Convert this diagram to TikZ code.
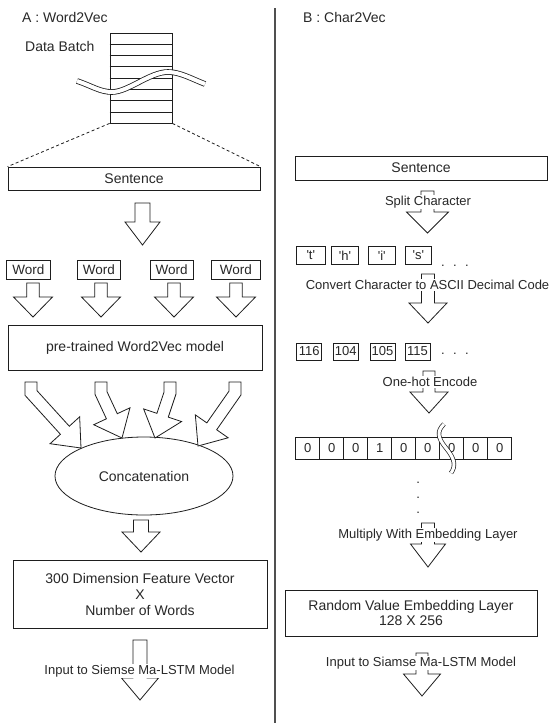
\documentclass[tikz,border=0pt]{standalone}
\usepackage{fontspec}
\setmainfont{Liberation Sans}[Ligatures=TeXOff]
\usetikzlibrary{calc,shapes.geometric}
\definecolor{linec}{RGB}{30,30,30}
\definecolor{txtc}{RGB}{40,40,40}
\definecolor{divc}{RGB}{80,80,80}
% straight block arrow: start, tip, half shaft width, half head width, head length
\newcommand\blockarrow[5]{%
  \coordinate (bahb) at ($(#2)!#5!(#1)$);
  \draw[blockar] ($(#1)!#3!90:(#2)$) -- ($(bahb)!#3!-90:(#1)$) -- ($(bahb)!#4!-90:(#1)$) -- (#2)
    -- ($(bahb)!#4!90:(#1)$) -- ($(bahb)!#3!90:(#1)$) -- ($(#1)!#3!-90:(#2)$) -- cycle;}
% bent block arrow: start, bend, tip, half shaft width, half head width, head length
\newcommand\bentarrow[6]{%
  \coordinate (bbhb) at ($(#3)!#6!(#2)$);
  \coordinate (bba1) at ($(#1)!#4!90:(#2)$);
  \coordinate (bba2) at ($(#2)!#4!-90:(#1)$);
  \coordinate (bba3) at ($(#2)!#4!90:(#3)$);
  \coordinate (bba4) at ($(bbhb)!#4!-90:(#2)$);
  \coordinate (bbb1) at ($(#1)!#4!-90:(#2)$);
  \coordinate (bbb2) at ($(#2)!#4!90:(#1)$);
  \coordinate (bbb3) at ($(#2)!#4!-90:(#3)$);
  \coordinate (bbb4) at ($(bbhb)!#4!90:(#2)$);
  \coordinate (bbam) at (intersection of bba1--bba2 and bba3--bba4);
  \coordinate (bbbm) at (intersection of bbb1--bbb2 and bbb3--bbb4);
  \draw[blockar] (bba1) -- (bbam) -- (bba4) -- ($(bbhb)!#5!-90:(#2)$) -- (#3)
    -- ($(bbhb)!#5!90:(#2)$) -- (bbb4) -- (bbbm) -- (bbb1) -- cycle;}
\begin{document}
\begin{tikzpicture}[x=1pt,y=-1pt,
  box/.style={draw=linec, line width=0.8pt, fill=white, inner sep=0pt, text=txtc, font=\fontsize{14}{16.5}\selectfont},
  smallbox/.style={box, font=\fontsize{13}{15}\selectfont},
  lbl/.style={fill=white, inner sep=1pt, text=txtc, font=\fontsize{13}{15}\selectfont},
  plain/.style={inner sep=0pt, text=txtc, font=\fontsize{13}{15}\selectfont},
  title/.style={anchor=west, text=txtc, inner sep=0pt, font=\fontsize{14}{16.5}\selectfont},
  blockar/.style={draw=linec, fill=white, line width=0.8pt, line join=miter},
  wavebreak/.style={draw=linec, line width=0.7pt, double=white}]
\useasboundingbox (0,0) rectangle (550,723);
\fill[white] (0,0) rectangle (550,723);

% divider
\draw[divc, line width=1.5pt] (275,8) -- (275,723);

%================ A : Word2Vec ================
\node[title] (titleA) at (22,17) {A : Word2Vec};
\node[title] (dbatch) at (25,46) {Data Batch};

\node[box, minimum width=62pt, minimum height=90pt] (batch) at (141,78) {};
\foreach \k in {1,...,7}
  \draw[linec, line width=0.8pt] ($(batch.north west)!\k/8!(batch.south west)$) -- ($(batch.north east)!\k/8!(batch.south east)$);
\draw[wavebreak, double distance=4pt, line width=0.8pt] (77,81) .. controls (92,86) and (100,92) .. (112,92)
  .. controls (128,92) and (150,72) .. (168,72) .. controls (180,72) and (192,79) .. (205,84);

\node[box, minimum width=252pt, minimum height=23pt] (sentL) at (134,178.5) {Sentence};
\draw[linec, line width=0.8pt, dash pattern=on 3pt off 2.5pt] (batch.south west) -- (sentL.north west);
\draw[linec, line width=0.8pt, dash pattern=on 3pt off 2.5pt] (batch.south east) -- (sentL.north east);

\coordinate (aS) at (142.5,203);
\coordinate (aE) at (142.5,245);
\blockarrow{aS}{aE}{7.5pt}{17.5pt}{23pt}

\node[box, minimum width=43.3pt, minimum height=19pt, font=\fontsize{13.5}{16}\selectfont] (w1) at (28.3,269.5) {Word};
\node[box, minimum width=42.3pt, minimum height=19pt, font=\fontsize{13.5}{16}\selectfont] (w2) at (98.8,269.5) {Word};
\node[box, minimum width=43.3pt, minimum height=19pt, font=\fontsize{13.5}{16}\selectfont] (w3) at (171.7,269.5) {Word};
\node[box, minimum width=48.3pt, minimum height=19pt, font=\fontsize{13.5}{16}\selectfont] (w4) at (235.8,269.5) {Word};

\foreach \cx [count=\i] in {33,101,174,236}{
  \coordinate (wS\i) at (\cx,283);
  \coordinate (wE\i) at (\cx,317);
  \blockarrow{wS\i}{wE\i}{6.3pt}{19.5pt}{20pt}
}

\node[box, minimum width=254pt, minimum height=45pt] (pre) at (135,347.5) {pre-trained Word2Vec model};

\node[box, ellipse, minimum width=178pt, minimum height=78pt] (concat) at (144,476) {Concatenation};

\coordinate (d1S) at (31,382);  \coordinate (d1K) at (31,393);  \coordinate (d1E) at (81,448);
\coordinate (d2S) at (101,382); \coordinate (d2K) at (101,393); \coordinate (d2E) at (122,438);
\coordinate (d3S) at (170,382); \coordinate (d3K) at (170,393); \coordinate (d3E) at (155,438);
\coordinate (d4S) at (235,382); \coordinate (d4K) at (235,393); \coordinate (d4E) at (198,446);
\bentarrow{d1S}{d1K}{d1E}{6pt}{20pt}{24pt}
\bentarrow{d2S}{d2K}{d2E}{6pt}{20pt}{24pt}
\bentarrow{d3S}{d3K}{d3E}{6pt}{20pt}{24pt}
\bentarrow{d4S}{d4K}{d4E}{6pt}{20pt}{24pt}

\coordinate (cS) at (141,520);
\coordinate (cE) at (141,552);
\blockarrow{cS}{cE}{7.5pt}{19pt}{20pt}

\node[box, minimum width=254pt, minimum height=68pt, align=center, font=\fontsize{14}{16}\selectfont] (feat) at (140,594)
  {300 Dimension Feature Vector\\X\\Number of Words};

\coordinate (fS) at (140,640);
\coordinate (fE) at (140,700);
\blockarrow{fS}{fE}{7pt}{18.5pt}{22pt}
\node[lbl] (inL) at (139.5,671) {Input to Siemse Ma-LSTM Model};

%================ B : Char2Vec ================
\node[title] (titleB) at (303,17) {B : Char2Vec};

\node[box, minimum width=252pt, minimum height=24pt] (sentR) at (421,168) {Sentence};

\coordinate (sS) at (427.5,191);
\coordinate (sE) at (427.5,233);
\blockarrow{sS}{sE}{6.5pt}{21pt}{21pt}
\node[lbl] (split) at (428,202) {Split Character};

\node[smallbox, minimum width=28.3pt, minimum height=17.3pt] (c1) at (310.8,255.3) {'t'};
\node[smallbox, minimum width=26.7pt, minimum height=17.3pt] (c2) at (345,255.3) {'h'};
\node[smallbox, minimum width=26.7pt, minimum height=17.3pt] (c3) at (381.7,255.3) {'i'};
\node[smallbox, minimum width=26.7pt, minimum height=17.3pt] (c4) at (418.3,255.3) {'s'};
\node[plain, anchor=base] (dots1) at (455,266) {.\hspace{8.4pt}.\hspace{8.4pt}.};

\coordinate (vS) at (428,274);
\coordinate (vE) at (428,323);
\blockarrow{vS}{vE}{6.5pt}{19pt}{20pt}
\node[lbl] (conv) at (427.5,285) {Convert Character to ASCII Decimal Code};

\node[smallbox, minimum width=25pt, minimum height=17pt] (n1) at (309.2,351.5) {116};
\node[smallbox, minimum width=25pt, minimum height=17pt] (n2) at (345.8,351.5) {104};
\node[smallbox, minimum width=25pt, minimum height=17pt] (n3) at (382.5,351.5) {105};
\node[smallbox, minimum width=25pt, minimum height=17pt] (n4) at (417.5,351.5) {115};
\node[plain, anchor=base] (dots2) at (455,354.5) {.\hspace{8.4pt}.\hspace{8.4pt}.};

\coordinate (oS) at (429,371);
\coordinate (oE) at (429,413);
\blockarrow{oS}{oE}{6pt}{19pt}{21pt}
\node[lbl] (onehot) at (430,382) {One-hot Encode};

\foreach \v [count=\i] in {0,0,0,1,0,0,0,0,0}{
  \node[smallbox, minimum width=24pt, minimum height=22pt] (v\i) at ({295.7+12+24*(\i-1)},448) {\v};
}
\draw[wavebreak, double distance=3pt] (444,424) .. controls (437,431) and (437,437) .. (446,448)
  .. controls (455,459) and (456,466) .. (451,473);

\node[plain, anchor=base] (vd1) at (418.3,483) {.};
\node[plain, anchor=base] (vd2) at (418.3,498) {.};
\node[plain, anchor=base] (vd3) at (418.3,513.5) {.};

\coordinate (mS) at (428,523);
\coordinate (mE) at (428,567);
\blockarrow{mS}{mE}{6.5pt}{17.5pt}{23pt}
\node[lbl] (mult) at (428,535) {Multiply With Embedding Layer};

\node[box, minimum width=252pt, minimum height=46pt, align=center, font=\fontsize{14}{15}\selectfont] (rand) at (411,613)
  {Random Value Embedding Layer\\128 X 256};

\coordinate (iS) at (422,653);
\coordinate (iE) at (422,696);
\blockarrow{iS}{iE}{6pt}{18.5pt}{22pt}
\node[lbl] (inR) at (421,663) {Input to Siamse Ma-LSTM Model};
\end{tikzpicture}
\end{document}
